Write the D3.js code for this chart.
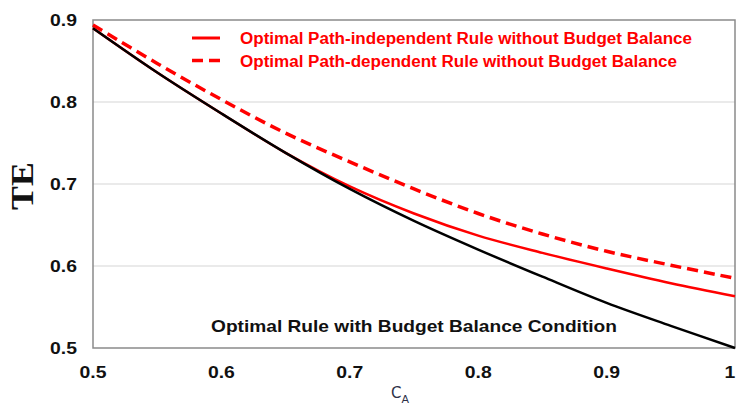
<!DOCTYPE html>
<html>
<head>
<meta charset="utf-8">
<script src="https://cdn.jsdelivr.net/npm/d3@7"></script>
<style>
  body { margin: 0; background: #fff; }
  svg { display: block; }
</style>
</head>
<body>
<svg width="738" height="405"></svg>
<script>
// c_A values along the x axis
var cValues = [0.5, 0.55, 0.6, 0.65, 0.7, 0.75, 0.8, 0.85, 0.9, 0.95, 1.0];

// TE for each rule
var budgetBalance = [0.890, 0.836, 0.786, 0.738, 0.694, 0.655, 0.620, 0.587, 0.555, 0.527, 0.500];
var pathIndependent = [0.890, 0.836, 0.786, 0.738, 0.697, 0.664, 0.637, 0.616, 0.597, 0.579, 0.563];
var pathDependent = [0.894, 0.847, 0.803, 0.762, 0.727, 0.694, 0.664, 0.639, 0.618, 0.601, 0.585];

var xTicks = [0.5, 0.6, 0.7, 0.8, 0.9, 1];
var yTicks = [0.5, 0.6, 0.7, 0.8, 0.9];
var xTickLabels = ["0.5", "0.6", "0.7", "0.8", "0.9", "1"];
var yTickLabels = ["0.5", "0.6", "0.7", "0.8", "0.9"];

var legendLabels = [
    "Optimal Path-independent Rule without Budget Balance",
    "Optimal Path-dependent Rule without Budget Balance"
];

var xScale = d3.scaleLinear().domain([0.5, 1]).range([93, 735]);
var yScale = d3.scaleLinear().domain([0.5, 0.9]).range([348, 20]);

var svg = d3.select("svg");
var tickFont = "bold 17px 'Liberation Sans', Arial, sans-serif";

// Gridlines
svg.selectAll("line.grid")
    .data(yTicks.filter(t => t > 0.5 && t < 0.9))
    .enter()
    .append("line")
    .attr("class", "grid")
    .attr("x1", xScale(0.5))
    .attr("x2", xScale(1))
    .attr("y1", d => yScale(d))
    .attr("y2", d => yScale(d))
    .style("stroke", "#e3e3e3")
    .style("stroke-width", 1.5);

// Plot border
svg.append("rect")
    .attr("x", xScale(0.5))
    .attr("y", yScale(0.9))
    .attr("width", xScale(1) - xScale(0.5))
    .attr("height", yScale(0.5) - yScale(0.9))
    .attr("fill", "none")
    .attr("stroke", "#8a8a8a")
    .attr("stroke-width", 1.5);

// Tick labels (slightly wide, like the original)
svg.selectAll("text.ytick")
    .data(yTicks)
    .enter()
    .append("text")
    .attr("class", "ytick")
    .attr("transform", d => "translate(77," + (yScale(d) + 6) + ") scale(1.14,1)")
    .attr("text-anchor", "end")
    .style("font", tickFont)
    .style("fill", "#111")
    .text((d, i) => yTickLabels[i]);

svg.selectAll("text.xtick")
    .data(xTicks)
    .enter()
    .append("text")
    .attr("class", "xtick")
    .attr("transform", d => "translate(" + Math.min(xScale(d), 730) + ",378) scale(1.14,1)")
    .attr("text-anchor", "middle")
    .style("font", tickFont)
    .style("fill", "#111")
    .text((d, i) => xTickLabels[i]);

// Axis titles
svg.append("text")
    .attr("transform", "translate(33,186) rotate(-90) scale(1.12,1)")
    .attr("text-anchor", "middle")
    .style("font", "bold 32px 'Liberation Serif', 'Times New Roman', serif")
    .style("fill", "#111")
    .text("TE");

var cLabel = svg.append("text")
    .attr("x", 391)
    .attr("y", 398)
    .style("font", "15px 'DejaVu Sans', sans-serif")
    .style("fill", "#2e3048");
cLabel.append("tspan").text("C");
cLabel.append("tspan").attr("dy", 5).style("font-size", "11px").text("A");

// Curves
var line = d3.line()
    .x((d, i) => xScale(cValues[i]))
    .y(d => yScale(d))
    .curve(d3.curveCatmullRom);

svg.append("path")
    .attr("d", line(pathDependent))
    .attr("fill", "none")
    .attr("stroke", "#ff0000")
    .attr("stroke-width", 3.5)
    .attr("stroke-dasharray", "11,6");

svg.append("path")
    .attr("d", line(pathIndependent))
    .attr("fill", "none")
    .attr("stroke", "#ff0000")
    .attr("stroke-width", 2.5);

svg.append("path")
    .attr("d", line(budgetBalance))
    .attr("fill", "none")
    .attr("stroke", "#000")
    .attr("stroke-width", 2.5);

// Legend
var legendWidths = [452, 437];

var legend = svg.selectAll("g.legend")
    .data(legendLabels)
    .enter()
    .append("g")
    .attr("class", "legend")
    .attr("transform", (d, i) => "translate(192," + (38 + i * 22.5) + ")");

legend.append("line")
    .attr("x1", 0)
    .attr("x2", 28)
    .attr("y1", 0)
    .attr("y2", 0)
    .attr("stroke", "#ff0000")
    .attr("stroke-width", (d, i) => i === 0 ? 3 : 3.5)
    .attr("stroke-dasharray", (d, i) => i === 0 ? null : "11,6");

legend.append("text")
    .attr("x", 48)
    .attr("y", 6)
    .attr("textLength", (d, i) => legendWidths[i])
    .attr("lengthAdjust", "spacingAndGlyphs")
    .style("font", "bold 16px 'Liberation Sans', Arial, sans-serif")
    .style("fill", "#ff0000")
    .text(d => d);

// Label for the black curve
svg.append("text")
    .attr("x", 211)
    .attr("y", 332)
    .attr("textLength", 406)
    .attr("lengthAdjust", "spacingAndGlyphs")
    .style("font", "bold 17px 'Liberation Sans', Arial, sans-serif")
    .style("fill", "#111")
    .text("Optimal Rule with Budget Balance Condition");
</script>
</body>
</html>
